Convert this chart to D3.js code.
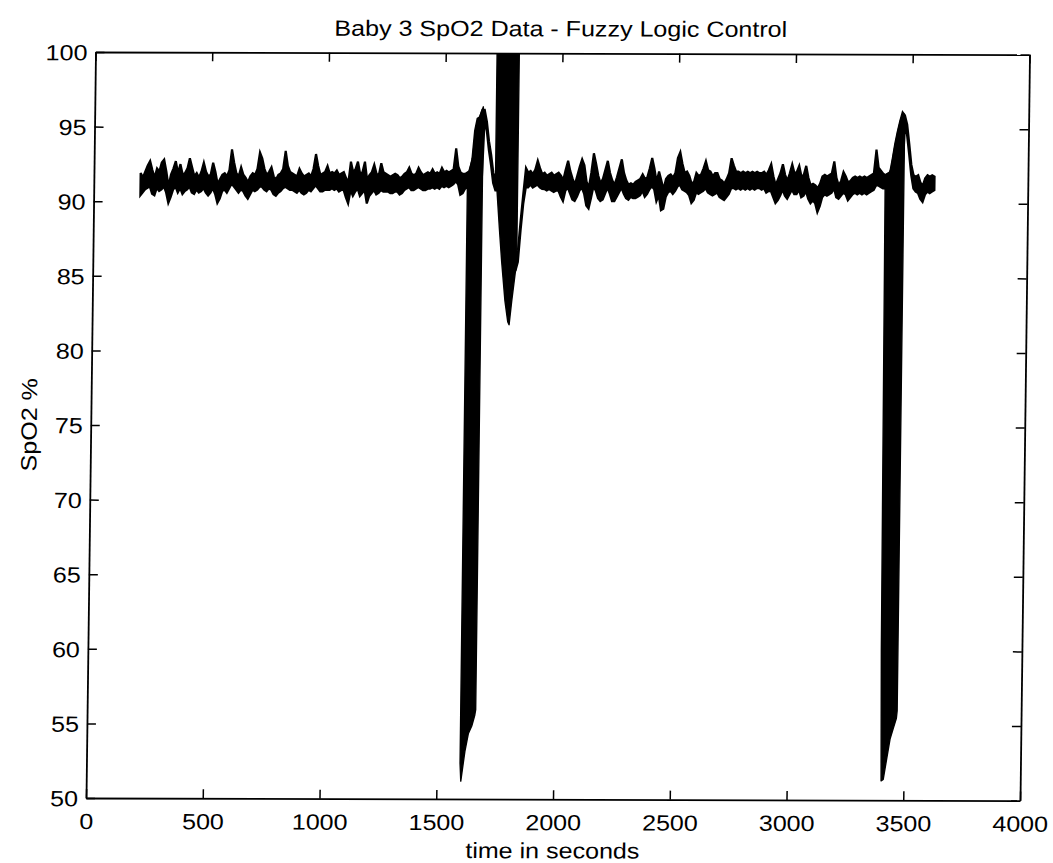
<!DOCTYPE html>
<html>
<head>
<meta charset="utf-8">
<script src="https://cdn.jsdelivr.net/npm/d3@7"></script>
<style>
  html, body { margin: 0; padding: 0; background: #fff; }
  svg { display: block; }
  text { font-family: "Liberation Sans", Arial, Helvetica, sans-serif; fill: #000; }
</style>
</head>
<body>
<svg id="chart" width="1053" height="863"></svg>
<script>
// ---- data -------------------------------------------------------------
const titleText = "Baby 3 SpO2 Data - Fuzzy Logic Control";
const xLabelText = "time in seconds";
const yLabelText = "SpO2 %";
const xTicks = [0, 500, 1000, 1500, 2000, 2500, 3000, 3500, 4000];
const yTicks = [50, 55, 60, 65, 70, 75, 80, 85, 90, 95, 100];

// SpO2 trace sampled every 10 s from 200 s: upper and lower envelope
const traceStart = 200;
const traceStep = 10;
const spo2Hi = [
  91.9, 91.6, 92.0, 92.4, 92.7, 92.1, 91.6, 92.2, 92.0, 92.6,
  92.8, 92.0, 91.0, 91.8, 92.2, 92.7, 91.9, 92.5, 91.8, 91.9,
  92.2, 92.9, 92.3, 91.7, 91.9, 91.6, 92.0, 92.6, 92.0, 91.7,
  91.8, 92.6, 92.0, 91.2, 91.5, 91.8, 91.9, 91.7, 92.1, 93.5,
  92.6, 91.9, 91.7, 92.3, 91.8, 91.6, 91.3, 91.7, 91.9, 91.8,
  92.2, 93.3, 92.9, 92.2, 91.8, 92.0, 92.3, 91.7, 91.5, 91.8,
  91.9, 92.2, 93.4, 92.4, 92.0, 91.9, 91.8, 91.7, 92.2, 91.9,
  91.7, 91.8, 91.9, 91.7, 92.2, 93.2, 92.4, 91.8, 91.9, 92.0,
  92.4, 91.9, 92.0, 91.9, 92.1, 91.8, 91.9, 92.0, 91.6, 91.3,
  92.7, 92.0, 92.2, 92.7, 91.9, 92.0, 92.7, 91.5, 91.8, 92.0,
  92.5, 91.9, 91.8, 92.6, 92.0, 91.9, 91.8, 91.7, 91.8, 91.9,
  91.8, 91.6, 91.7, 91.9, 92.0, 92.3, 91.9, 91.8, 91.9, 92.3,
  92.0, 91.8, 91.9, 92.0, 91.9, 92.2, 91.9, 92.0, 91.9, 92.3,
  92.0, 92.1, 92.0, 92.1, 92.2, 93.6, 92.4, 92.0, 91.9, 91.9,
  92.0, 92.1, 92.9, 94.8, 95.6, 95.7, 96.2, 96.2, 95.4, 94.1,
  93.2, 92.0, 91.5, 91.4, 91.4, 91.3, 91.4, 91.3, 91.4, 91.3,
  91.3, 86.0, 86.8, 88.8, 90.6, 92.3, 92.0, 92.1, 91.9, 92.2,
  92.8, 92.3, 91.9, 92.0, 91.8, 91.9, 92.0, 91.8, 91.9, 92.0,
  91.8, 91.5, 92.2, 92.8, 92.1, 91.6, 91.2, 91.8, 92.4, 92.9,
  92.5, 91.4, 91.0, 92.0, 93.3, 92.6, 91.8, 91.3, 91.6, 92.2,
  92.8, 92.0, 91.5, 91.2, 91.7, 92.3, 92.9, 92.0, 91.5, 91.2,
  91.3, 91.2, 91.4, 91.5, 91.6, 91.9, 91.6, 91.7, 92.3, 93.0,
  92.3, 91.4, 92.1, 91.5, 90.9, 91.6, 91.8, 91.9, 91.7, 92.0,
  93.0, 93.4, 92.6, 92.0, 92.1, 91.8, 91.3, 91.4, 92.0, 91.8,
  91.9, 92.3, 92.8, 92.2, 92.1, 91.8, 92.0, 92.0, 91.6, 91.5,
  91.3, 91.6, 92.0, 93.0, 92.5, 92.1, 92.1, 92.0, 92.1, 92.0,
  92.1, 92.0, 92.1, 92.0, 92.1, 92.0, 92.0, 92.1, 91.9, 92.2,
  92.6, 91.8, 91.2, 91.6, 92.0, 92.6, 91.9, 91.5, 92.0, 92.6,
  92.0, 92.1, 92.5, 91.8, 91.9, 92.5, 91.7, 91.2, 91.3, 91.2,
  91.0, 91.3, 91.8, 91.9, 91.8, 91.9, 92.0, 92.8, 91.7, 91.2,
  91.5, 92.1, 91.8, 91.4, 91.5, 91.7, 91.8, 91.7, 91.8, 91.7,
  91.8, 91.7, 91.8, 91.9, 92.0, 93.6, 92.4, 92.2, 92.0, 91.9,
  92.0, 92.1, 93.0, 94.0, 94.8, 95.5, 96.1, 95.9, 95.3, 94.0,
  92.6, 91.9, 91.8, 91.9, 91.4, 91.2, 91.7, 91.9, 91.8, 91.9,
  91.8
];
const spo2Lo = [
  90.4, 90.6, 90.8, 90.9, 91.0, 90.5, 90.4, 90.9, 90.7, 90.8,
  91.0, 90.6, 89.9, 90.3, 90.8, 91.0, 90.6, 90.9, 90.5, 90.7,
  90.8, 91.0, 90.6, 90.5, 90.8, 90.6, 90.7, 90.9, 90.6, 90.4,
  90.6, 90.9, 90.5, 89.9, 90.2, 90.7, 90.8, 90.6, 90.9, 91.2,
  91.0, 90.8, 90.6, 90.8, 90.7, 90.4, 90.2, 90.5, 90.8, 90.7,
  90.8, 91.0, 91.0, 90.8, 90.7, 90.9, 90.8, 90.5, 90.4, 90.6,
  90.7, 90.9, 91.0, 90.9, 90.8, 90.8, 90.7, 90.6, 90.8, 90.6,
  90.5, 90.6, 90.8, 90.7, 90.9, 91.1, 90.9, 90.7, 90.7, 90.8,
  90.8, 90.8, 90.9, 90.8, 90.9, 90.7, 90.8, 90.8, 90.3, 89.9,
  90.8, 90.4, 90.7, 90.9, 90.4, 90.6, 90.8, 89.9, 90.4, 90.6,
  90.8, 90.5, 90.6, 90.8, 90.7, 90.7, 90.7, 90.6, 90.6, 90.7,
  90.7, 90.5, 90.6, 90.8, 90.9, 91.0, 90.8, 90.8, 90.9, 91.0,
  90.9, 90.8, 90.8, 90.9, 90.9, 91.0, 90.9, 91.0, 90.9, 91.1,
  91.0, 91.1, 91.0, 91.1, 91.2, 91.4, 91.2, 90.5, 90.6, 90.9,
  91.0, 91.0, 91.0, 91.0, 91.0, 91.0, 91.0, 95.5, 94.8, 93.5,
  92.5, 91.3, 90.8, 90.8, 90.7, 90.8, 90.7, 90.8, 90.7, 90.8,
  90.7, 85.4, 86.0, 88.1, 89.9, 91.0, 91.0, 91.2, 91.0, 91.1,
  91.2, 91.0, 90.9, 90.9, 90.8, 90.9, 90.8, 90.7, 90.8, 90.8,
  90.4, 90.1, 90.8, 91.0, 90.6, 90.2, 90.1, 90.4, 90.8, 91.0,
  90.6, 89.8, 89.6, 90.3, 91.1, 90.8, 90.3, 90.1, 90.2, 90.6,
  91.0, 90.6, 90.1, 90.1, 90.4, 90.7, 91.0, 90.6, 90.3, 90.2,
  90.4, 90.3, 90.3, 90.4, 90.5, 90.8, 90.4, 90.6, 90.9, 91.1,
  90.9, 90.1, 90.5, 89.5, 89.6, 90.4, 90.7, 90.8, 90.6, 90.8,
  91.1, 91.2, 90.9, 90.8, 90.7, 90.5, 90.0, 90.2, 90.7, 90.6,
  90.7, 90.8, 91.0, 90.7, 90.6, 90.5, 90.6, 90.7, 90.4, 90.3,
  90.2, 90.4, 90.6, 91.0, 91.0, 90.9, 91.0, 90.9, 91.0, 90.9,
  91.0, 90.9, 91.0, 90.9, 91.0, 91.0, 90.9, 91.0, 90.7, 90.8,
  90.8, 90.4, 90.0, 90.2, 90.5, 90.9, 90.5, 90.3, 90.6, 90.9,
  90.6, 90.6, 90.9, 90.4, 90.5, 90.8, 90.3, 90.0, 90.2, 90.0,
  89.4, 89.8, 90.4, 90.6, 90.5, 90.6, 90.7, 91.0, 90.4, 90.3,
  90.5, 90.7, 90.6, 90.2, 90.4, 90.6, 90.7, 90.6, 90.7, 90.6,
  90.7, 90.6, 90.7, 90.8, 90.9, 91.2, 91.2, 91.1, 91.0, 91.0,
  91.0, 91.0, 91.0, 91.0, 91.0, 91.0, 91.0, 95.2, 94.6, 93.3,
  91.9, 91.0, 90.8, 90.7, 90.3, 90.1, 90.6, 90.8, 90.7, 90.8,
  90.9
];

// Probe drop-out episodes: fast swings between the envelopes below
const drop1Time = [1600, 1604, 1620, 1634, 1648, 1660, 1664];
const drop1Lo   = [52.4, 51.2, 53.2, 54.4, 54.9, 55.6, 56.0];
const drop1Hi   = [92.0, 92.0, 92.9, 95.1, 95.7, 96.2, 96.4];

const drop2Time = [1720, 1725, 1739, 1751, 1767, 1780, 1786, 1796, 1809, 1815];
const drop2Lo   = [91.5, 91.2, 88.3, 86.0, 83.4, 82.0, 81.8, 83.4, 85.2, 86.0];
const drop2Hi   = [100, 100, 100, 100, 100, 100, 100, 100, 100, 100];

const drop3Time = [3389, 3398, 3404, 3413, 3427, 3440, 3453, 3466, 3469];
const drop3Lo   = [91.0, 60.0, 51.3, 51.4, 52.8, 54.1, 54.8, 55.5, 56.0];
const drop3Hi   = [91.9, 92.0, 92.0, 92.3, 93.7, 94.8, 95.7, 96.0, 95.9];

// ---- layout -------------------------------------------------------------
const svg = d3.select("#chart");
const L = 86, R = 1020, T = 52, B = 798;
const fontPx = 22, stretch = 1.14;

// page carries a slight shear (top edge sits right of the bottom edge)
const k = 9.5 / (B - T), m = 2.6 / (R - L);
const root = svg.append("g")
  .attr("transform", `matrix(1,${m},${-k},1,${k * B},${-m * L})`);

const x = d3.scaleLinear().domain([0, 4000]).range([L, R]);
const y = d3.scaleLinear().domain([50, 100]).range([B, T]);

root.append("clipPath").attr("id", "plotClip")
  .append("rect").attr("x", L).attr("y", T).attr("width", R - L).attr("height", B - T);

const plot = root.append("g").attr("clip-path", "url(#plotClip)");

const band = d3.area()
  .x(d => x(d.t)).y0(d => y(d.lo)).y1(d => y(d.hi))
  .curve(d3.curveLinear);

const n = Math.min(spo2Hi.length, spo2Lo.length);
const trace = d3.range(n).map(i => ({ t: traceStart + i * traceStep, hi: spo2Hi[i], lo: spo2Lo[i] }));

plot.append("path").datum(trace)
  .attr("d", band)
  .attr("fill", "#000").attr("stroke", "#000")
  .attr("stroke-width", 2.2).attr("stroke-linejoin", "miter");

const drops = [
  [drop1Time, drop1Lo, drop1Hi],
  [drop2Time, drop2Lo, drop2Hi],
  [drop3Time, drop3Lo, drop3Hi]
];
drops.forEach(([ts, lo, hi]) => {
  const rows = ts.map((t, i) => ({ t, lo: lo[i], hi: hi[i] }));
  plot.append("path").datum(rows)
    .attr("d", band)
    .attr("fill", "#000").attr("stroke", "#000")
    .attr("stroke-width", 1.4).attr("stroke-linejoin", "round");
});

// ---- axes (ticks point inward on all four sides) ------------------------
const tickLen = 9;
function styleAxis(g) {
  g.select(".domain").attr("stroke", "#000").attr("stroke-width", 1.8);
  g.selectAll(".tick line").attr("stroke", "#000").attr("stroke-width", 1.5);
  g.selectAll(".tick text")
    .attr("font-size", fontPx)
    .style("font-family", '"Liberation Sans", Arial, Helvetica, sans-serif')
    .attr("fill", "#000");
}

const gx = root.append("g").attr("transform", `translate(0,${B})`)
  .call(d3.axisBottom(x).tickValues(xTicks).tickFormat(d3.format("d"))
    .tickSize(-tickLen).tickSizeOuter(0).tickPadding(0));
styleAxis(gx);
gx.selectAll(".tick text").attr("y", 31).attr("dy", null)
  .attr("transform", `scale(${stretch},1)`);

const gy = root.append("g").attr("transform", `translate(${L},0)`)
  .call(d3.axisLeft(y).tickValues(yTicks).tickFormat(d3.format("d"))
    .tickSize(-tickLen).tickSizeOuter(0).tickPadding(0));
styleAxis(gy);
gy.selectAll(".tick text").attr("x", -8 / stretch).attr("dy", "0.36em")
  .attr("transform", `scale(${stretch},1)`);

const gt = root.append("g").attr("transform", `translate(0,${T})`)
  .call(d3.axisTop(x).tickValues(xTicks).tickFormat("")
    .tickSize(-tickLen).tickSizeOuter(0));
styleAxis(gt);

const gr = root.append("g").attr("transform", `translate(${R},0)`)
  .call(d3.axisRight(y).tickValues(yTicks).tickFormat("")
    .tickSize(-tickLen).tickSizeOuter(0));
styleAxis(gr);

// ---- labels ---------------------------------------------------------------
const cx = (L + R) / 2;
root.append("text")
  .attr("transform", `translate(${cx - 2},35) scale(${stretch},1)`)
  .attr("text-anchor", "middle").attr("font-size", fontPx)
  .text(titleText);

root.append("text")
  .attr("transform", `translate(${cx},857) scale(${stretch},1)`)
  .attr("text-anchor", "middle").attr("font-size", fontPx)
  .text(xLabelText);

root.append("text")
  .attr("transform", `translate(32,${(T + B) / 2}) rotate(-90) scale(${stretch},1)`)
  .attr("text-anchor", "middle").attr("font-size", fontPx)
  .text(yLabelText);
</script>
</body>
</html>
